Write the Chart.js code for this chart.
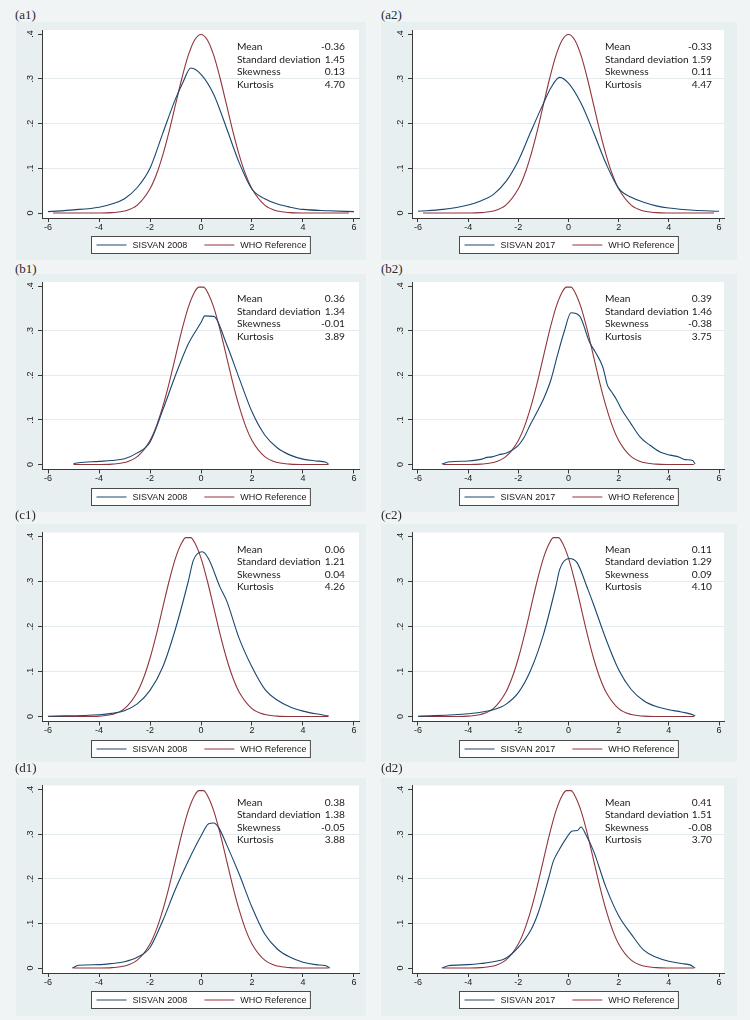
<!DOCTYPE html>
<html>
<head>
<meta charset="utf-8">
<script src="https://cdn.jsdelivr.net/npm/chart.js@4.4.0/dist/chart.umd.min.js"></script>
<style>
  html, body { margin: 0; padding: 0; }
  body { width: 750px; height: 1020px; position: relative; overflow: hidden; background: #f0f4f5; }
  .region { position: absolute; background: #e8eff1; }
  .plabel { position: absolute; font-family: "Liberation Serif", serif; font-size: 13px; color: #2a2a2a; line-height: 14px; }
  canvas { position: absolute; }
</style>
</head>
<body>
<script>
// ---------------- DATA ----------------
const xTickValues = [-6, -4, -2, 0, 2, 4, 6];
const yTickValues = [0, 0.1, 0.2, 0.3, 0.4];
const yTickLabels = ["0", ".1", ".2", ".3", ".4"];
const statLabels = ["Mean", "Standard deviation", "Skewness", "Kurtosis"];
const panelNames = ["(a1)", "(a2)", "(b1)", "(b2)", "(c1)", "(c2)", "(d1)", "(d2)"];
const sisvanLabels = ["SISVAN 2008", "SISVAN 2017"];
const whoLabel = "WHO Reference";

const a1Stats = ["-0.36", "1.45", "0.13", "4.70"];
const a2Stats = ["-0.33", "1.59", "0.11", "4.47"];
const b1Stats = ["0.36", "1.34", "-0.01", "3.89"];
const b2Stats = ["0.39", "1.46", "-0.38", "3.75"];
const c1Stats = ["0.06", "1.21", "0.04", "4.26"];
const c2Stats = ["0.11", "1.29", "0.09", "4.10"];
const d1Stats = ["0.38", "1.38", "-0.05", "3.88"];
const d2Stats = ["0.41", "1.51", "-0.08", "3.70"];

// WHO reference curves
const whoWideX = [-5.8,-4.5,-4,-3.5,-3,-2.5,-2,-1.75,-1.5,-1.25,-1,-0.75,-0.5,-0.25,0,0.25,0.5,0.75,1,1.25,1.5,1.75,2,2.5,3,3.5,4,4.5,5.8];
const whoWideY = [0,0,0.0001,0.0009,0.0044,0.0175,0.054,0.086,0.1295,0.1826,0.242,0.3011,0.3521,0.3867,0.3989,0.3867,0.3521,0.3011,0.242,0.1826,0.1295,0.086,0.054,0.0175,0.0044,0.0009,0.0001,0,0];
const whoX = [-5,-4.5,-4,-3.5,-3,-2.5,-2,-1.75,-1.5,-1.25,-1,-0.75,-0.5,-0.25,-0.08,0.1,0.25,0.5,0.75,1,1.25,1.5,1.75,2,2.5,3,3.5,4,4.5,5];
const whoY = [0,0,0.0001,0.0009,0.0044,0.0175,0.054,0.086,0.1295,0.1826,0.242,0.3011,0.3521,0.3867,0.3975,0.3975,0.3867,0.3521,0.3011,0.242,0.1826,0.1295,0.086,0.054,0.0175,0.0044,0.0009,0.0001,0,0];
const whoShiftX = [-6,-5,-4.5,-4,-3.5,-3,-2.5,-2.25,-2,-1.75,-1.5,-1.25,-1,-0.75,-0.6,-0.4,-0.25,0,0.25,0.5,0.75,1,1.25,1.5,2,2.5,3,3.5,4,5];
const whoShiftY = [0,0,0.0001,0.0009,0.0044,0.0175,0.054,0.086,0.1295,0.1826,0.242,0.3011,0.3521,0.3867,0.3975,0.3975,0.3867,0.3521,0.3011,0.242,0.1826,0.1295,0.086,0.054,0.0175,0.0044,0.0009,0.0001,0,0];

// SISVAN curves
const a1SisvanX = [-6,-5,-4,-3.5,-3,-2.5,-2,-1.5,-1,-0.7,-0.4,0,0.5,1,1.5,2,2.5,3,3.5,4,5,6];
const a1SisvanY = [0.003,0.007,0.013,0.02,0.032,0.057,0.1,0.178,0.255,0.293,0.324,0.31,0.265,0.19,0.112,0.053,0.032,0.02,0.013,0.008,0.005,0.003];
const a2SisvanX = [-6,-5,-4,-3.5,-3,-2.5,-2,-1.5,-1,-0.7,-0.35,0,0.5,1,1.5,2,2.5,3,3.5,4,5,6];
const a2SisvanY = [0.004,0.008,0.018,0.027,0.041,0.07,0.117,0.182,0.245,0.28,0.303,0.29,0.245,0.18,0.11,0.055,0.035,0.024,0.016,0.011,0.006,0.004];
const b1SisvanX = [-5,-4.8,-4,-3.5,-3,-2.5,-2,-1.5,-1,-0.5,0,0.15,0.5,1,1.5,2,2.5,3,3.5,4,4.5,4.9,5];
const b1SisvanY = [0.002,0.004,0.007,0.009,0.013,0.026,0.05,0.122,0.2,0.27,0.318,0.333,0.332,0.27,0.193,0.118,0.066,0.037,0.021,0.012,0.008,0.005,0.001];
const b2SisvanX = [-5.05,-4.75,-4,-3.45,-3.25,-3.05,-2.78,-2.5,-2.25,-2,-1.78,-1.5,-1.25,-0.97,-0.7,-0.44,-0.17,0.1,0.44,0.84,1.08,1.37,1.55,1.7,1.9,2.1,2.45,2.85,3.25,3.65,4.05,4.4,4.65,4.95,5.05];
const b2SisvanY = [0.001,0.006,0.008,0.012,0.016,0.017,0.022,0.025,0.032,0.043,0.06,0.092,0.118,0.15,0.19,0.245,0.298,0.34,0.333,0.274,0.251,0.218,0.178,0.164,0.147,0.125,0.095,0.062,0.043,0.028,0.021,0.017,0.011,0.009,0.001];
const c1SisvanX = [-6,-4,-3.5,-3,-2.5,-2,-1.5,-1,-0.5,-0.3,0.05,0.3,0.75,1,1.5,2,2.5,3,3.5,4,4.5,5];
const c1SisvanY = [0.0005,0.004,0.007,0.013,0.028,0.058,0.11,0.195,0.3,0.347,0.366,0.35,0.287,0.258,0.173,0.11,0.061,0.036,0.021,0.012,0.006,0.0015];
const c2SisvanX = [-6,-4,-3,-2.5,-2,-1.5,-1,-0.5,-0.35,0.02,0.34,0.77,1,1.5,2,2.5,3,3.5,4,4.5,5,5.05];
const c2SisvanY = [0.0005,0.006,0.015,0.027,0.053,0.104,0.182,0.29,0.327,0.351,0.342,0.283,0.249,0.171,0.104,0.06,0.035,0.022,0.015,0.01,0.003,0.001];
const d1SisvanX = [-5.05,-4.8,-4,-3.5,-3,-2.5,-2,-1.5,-1,-0.5,0,0.3,0.5,0.7,1,1.5,2,2.5,3,3.5,4,4.5,4.9,5.05];
const d1SisvanY = [0,0.006,0.0075,0.01,0.014,0.024,0.046,0.106,0.177,0.24,0.296,0.323,0.325,0.314,0.277,0.21,0.136,0.076,0.042,0.024,0.013,0.0075,0.005,0];
const d2SisvanX = [-5.05,-4.8,-4,-3.5,-3,-2.5,-2,-1.5,-1.2,-0.8,-0.6,-0.36,-0.1,0.15,0.35,0.5,0.7,1,1.5,2,2.5,3,3.5,4,4.5,4.85,5.05];
const d2SisvanY = [0,0.005,0.0075,0.01,0.014,0.022,0.046,0.085,0.125,0.2,0.24,0.266,0.29,0.307,0.308,0.316,0.298,0.262,0.18,0.117,0.076,0.04,0.024,0.015,0.01,0.007,0];

// ---------------- STYLE / LAYOUT ----------------
const NAVY = "#1a476f";
const MAROON = "#90353b";
const TEXT = "#1a1a1a";
const AXIS = "#3a3a3a";
const GRID = "#e3ebee";

const cols = [
  { regionLeft: 16, regionW: 350, axisX: 42, xm6: 48, x6: 354, statLabelDX: 195, statValueX: 345, labelX: 15 },
  { regionLeft: 381, regionW: 356, axisX: 412, xm6: 418, x6: 719, statLabelDX: 193, statValueX: 712, labelX: 381 }
];
const rows = [
  { regionTop: 22, y4: 34, y0: 213, labelY: 8 },
  { regionTop: 274, y4: 286, y0: 464.5, labelY: 262 },
  { regionTop: 524, y4: 536.5, y0: 716.5, labelY: 508 },
  { regionTop: 778, y4: 789.5, y0: 968, labelY: 761 }
];
const REGION_H = 238;

const panels = [
  { sx: a1SisvanX, sy: a1SisvanY, wx: whoWideX, wy: whoWideY, stats: a1Stats },
  { sx: a2SisvanX, sy: a2SisvanY, wx: whoWideX, wy: whoWideY, stats: a2Stats },
  { sx: b1SisvanX, sy: b1SisvanY, wx: whoX, wy: whoY, stats: b1Stats },
  { sx: b2SisvanX, sy: b2SisvanY, wx: whoX, wy: whoY, stats: b2Stats },
  { sx: c1SisvanX, sy: c1SisvanY, wx: whoShiftX, wy: whoShiftY, stats: c1Stats },
  { sx: c2SisvanX, sy: c2SisvanY, wx: whoShiftX, wy: whoShiftY, stats: c2Stats },
  { sx: d1SisvanX, sy: d1SisvanY, wx: whoX, wy: whoY, stats: d1Stats },
  { sx: d2SisvanX, sy: d2SisvanY, wx: whoX, wy: whoY, stats: d2Stats }
];

function makePlugin(cfg) {
  return {
    id: "stata",
    beforeDraw(chart) {
      const { ctx, chartArea: a } = chart;
      ctx.save();
      ctx.fillStyle = "#ffffff";
      ctx.fillRect(a.left, a.top, a.right - a.left, a.bottom - a.top);
      ctx.restore();
    },
    afterDraw(chart) {
      const { ctx, chartArea: a, scales } = chart;
      const y = scales.y;
      ctx.save();
      // rotated y tick labels
      ctx.font = '9px "Liberation Sans", Arial, sans-serif';
      ctx.fillStyle = TEXT;
      ctx.textAlign = "center";
      ctx.textBaseline = "middle";
      yTickValues.forEach((v, i) => {
        const py = y.getPixelForValue(v);
        ctx.save();
        ctx.translate(a.left - 11, py);
        ctx.rotate(-Math.PI / 2);
        ctx.fillText(yTickLabels[i], 0, 0);
        ctx.restore();
      });
      // statistics block
      ctx.font = '10.2px Lato, "Open Sans", sans-serif';
      ctx.textBaseline = "middle";
      const top = y.getPixelForValue(0.4);
      statLabels.forEach((s, i) => {
        const py = top + 13 + i * 12.5;
        ctx.textAlign = "left";
        ctx.fillText(s, a.left + cfg.statLabelDX, py);
        ctx.textAlign = "right";
        ctx.fillText(cfg.stats[i], cfg.valueX, py);
      });
      // legend box
      ctx.font = '9px "Liberation Sans", Arial, sans-serif';
      const items = chart.data.datasets.map(d => ({ label: d.label, color: d.borderColor, w: ctx.measureText(d.label).width }));
      const W = 5 + 30 + 6 + items[0].w + 17 + 30 + 6 + items[1].w + 4;
      const cx = (a.left + a.right) / 2;
      const lx = Math.round(cx - W / 2) + 0.5;
      const ly = Math.round(a.bottom + 18) + 0.5;
      const lh = 17;
      ctx.fillStyle = "#ffffff";
      ctx.fillRect(lx, ly, W, lh);
      ctx.strokeStyle = "#4a4a4a";
      ctx.lineWidth = 1;
      ctx.strokeRect(lx, ly, W, lh);
      let px = lx + 5;
      const my = ly + lh / 2;
      items.forEach(it => {
        ctx.strokeStyle = it.color;
        ctx.lineWidth = 1;
        ctx.beginPath();
        ctx.moveTo(px, my);
        ctx.lineTo(px + 30, my);
        ctx.stroke();
        px += 36;
        ctx.fillStyle = TEXT;
        ctx.textAlign = "left";
        ctx.textBaseline = "middle";
        ctx.fillText(it.label, px, my + 0.5);
        px += it.w + 17;
      });
      ctx.restore();
    }
  };
}

panels.forEach((p, idx) => {
  const col = cols[idx % 2];
  const row = rows[Math.floor(idx / 2)];

  const region = document.createElement("div");
  region.className = "region";
  region.style.left = col.regionLeft + "px";
  region.style.top = row.regionTop + "px";
  region.style.width = col.regionW + "px";
  region.style.height = REGION_H + "px";
  document.body.appendChild(region);

  const lab = document.createElement("div");
  lab.className = "plabel";
  lab.textContent = panelNames[idx];
  lab.style.left = col.labelX + "px";
  lab.style.top = row.labelY + "px";
  document.body.appendChild(lab);

  const canvas = document.createElement("canvas");
  canvas.width = col.regionW;
  canvas.height = REGION_H;
  canvas.style.left = col.regionLeft + "px";
  canvas.style.top = row.regionTop + "px";
  canvas.style.width = col.regionW + "px";
  canvas.style.height = REGION_H + "px";
  document.body.appendChild(canvas);

  const pxPerX = (col.x6 - col.xm6) / 12;
  const xmin = -6 - (col.xm6 - col.axisX) / pxPerX;
  const xmax = 6 + 5 / pxPerX;
  const pxPerY = (row.y0 - row.y4) / 0.4;
  const ymin = -5 / pxPerY;
  const ymax = 0.4 + 4 / pxPerY;

  const yAxisW = col.axisX - col.regionLeft;
  const padR = col.regionW - (col.x6 + 5 - col.regionLeft);
  const padT = row.y4 - 4 - row.regionTop;
  const X_AXIS_H = 16;
  const padB = REGION_H - (row.y0 + 5 - row.regionTop) - X_AXIS_H;

  const cfg = { stats: p.stats, statLabelDX: col.statLabelDX, valueX: col.statValueX - col.regionLeft };

  new Chart(canvas, {
    type: "line",
    data: {
      datasets: [
        {
          label: sisvanLabels[idx % 2],
          data: p.sx.map((x, i) => ({ x: x, y: p.sy[i] })),
          borderColor: NAVY,
          backgroundColor: NAVY,
          borderWidth: 1.1,
          pointRadius: 0,
          fill: false,
          cubicInterpolationMode: "monotone"
        },
        {
          label: whoLabel,
          data: p.wx.map((x, i) => ({ x: x, y: p.wy[i] })),
          borderColor: MAROON,
          backgroundColor: MAROON,
          borderWidth: 1.1,
          pointRadius: 0,
          fill: false,
          cubicInterpolationMode: "monotone"
        }
      ]
    },
    options: {
      responsive: false,
      maintainAspectRatio: false,
      animation: false,
      devicePixelRatio: 1,
      events: [],
      layout: { padding: { left: 0, right: padR, top: padT, bottom: padB } },
      plugins: { legend: { display: false }, tooltip: { enabled: false }, title: { display: false } },
      scales: {
        x: {
          type: "linear",
          min: xmin,
          max: xmax,
          afterBuildTicks: s => { s.ticks = xTickValues.map(v => ({ value: v })); },
          afterFit: s => { s.height = X_AXIS_H; },
          ticks: {
            autoSkip: false,
            maxRotation: 0,
            minRotation: 0,
            padding: 0,
            color: TEXT,
            font: { family: '"Liberation Sans", Arial, sans-serif', size: 9 },
            callback: v => String(v)
          },
          grid: { drawOnChartArea: false, drawTicks: true, tickLength: 4, tickColor: AXIS, tickWidth: 1 },
          border: { display: true, color: AXIS, width: 1 }
        },
        y: {
          type: "linear",
          min: ymin,
          max: ymax,
          afterBuildTicks: s => { s.ticks = yTickValues.map(v => ({ value: v })); },
          afterFit: s => { s.width = yAxisW; },
          ticks: { display: false },
          grid: {
            drawOnChartArea: true,
            drawTicks: true,
            tickLength: 4,
            tickColor: AXIS,
            tickWidth: 1,
            lineWidth: 1,
            color: ctx => {
              const v = ctx.tick ? ctx.tick.value : null;
              return (v === 0 || v === 0.4) ? "rgba(0,0,0,0)" : GRID;
            }
          },
          border: { display: true, color: AXIS, width: 1 }
        }
      }
    },
    plugins: [makePlugin(cfg)]
  });
});
</script>
</body>
</html>
